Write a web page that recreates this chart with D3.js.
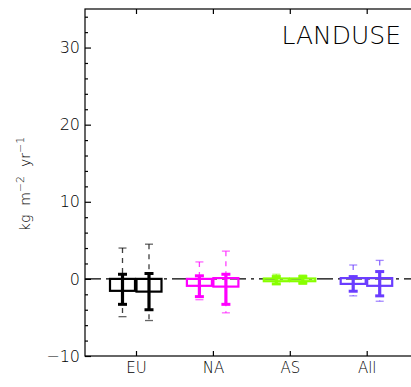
<!DOCTYPE html>
<html>
<head>
<meta charset="utf-8">
<script src="https://cdn.jsdelivr.net/npm/d3@7"></script>
<style>
  html, body { margin: 0; padding: 0; background: #fff; }
  svg { display: block; }
  text { font-family: "DejaVu Sans", sans-serif; font-weight: 200; fill: #000; }
</style>
</head>
<body>
<div id="chart"></div>
<script>
// Regions and their colours
const categories = ["EU", "NA", "AS", "All"];
const colors = ["#000000", "#ff00ff", "#88ff00", "#6a3cff"];

// Left box of each pair (kg m-2 yr-1)
const minA = [-4.9, -2.7, -0.7, -2.2];
const lowA = [-3.3, -2.3, -0.65, -1.6];
const q1A  = [-1.55, -0.9, -0.3, -0.65];
const q3A  = [0.0, 0.0, 0.05, 0.1];
const highA = [0.6, 0.4, 0.3, 0.3];
const maxA = [4.0, 2.2, 0.6, 1.8];

// Right box of each pair
const minB = [-5.4, -4.4, -0.7, -2.9];
const lowB = [-4.0, -3.3, -0.55, -2.2];
const q1B  = [-1.65, -1.0, -0.3, -0.9];
const q3B  = [0.0, 0.1, 0.05, 0.1];
const highB = [0.7, 0.6, 0.3, 0.95];
const maxB = [4.5, 3.6, 0.5, 2.4];

// Axis ticks
const yMajor = [-10, 0, 10, 20, 30];
const yMinor = d3.range(-10, 35.01, 2).filter(v => !yMajor.includes(v));
const title = "LANDUSE";

const W = 411, H = 387;
const plotL = 85, plotT = 9, plotB = 356, plotR = 416;

const svg = d3.select("#chart").append("svg")
  .attr("width", W).attr("height", H);

const x = d3.scalePoint().domain(categories).range([136, 366.7]);
const y = d3.scaleLinear().domain([-10, 35]).range([plotB, plotT]);

// Frame
svg.append("rect")
  .attr("x", plotL).attr("y", plotT)
  .attr("width", plotR - plotL).attr("height", plotB - plotT)
  .attr("fill", "none").attr("stroke", "#000").attr("stroke-width", 1.2);

// Left axis: major and minor inward ticks
const gMajor = svg.append("g").attr("transform", `translate(${plotL},0)`)
  .call(d3.axisLeft(y).tickValues(yMajor).tickSize(-6).tickSizeOuter(0).tickPadding(5)
    .tickFormat(d => d < 0 ? "\u2212" + Math.abs(d) : d));
gMajor.select(".domain").remove();
gMajor.selectAll("line").attr("stroke-width", 1.2);
gMajor.selectAll("text").attr("font-size", 16).attr("font-family", null);

const gMinor = svg.append("g").attr("transform", `translate(${plotL},0)`)
  .call(d3.axisLeft(y).tickValues(yMinor).tickSize(-3).tickSizeOuter(0).tickFormat(""));
gMinor.select(".domain").remove();
gMinor.selectAll("line").attr("stroke-width", 1.2);

// Bottom and top axes
const gBottom = svg.append("g").attr("transform", `translate(0,${plotB})`)
  .call(d3.axisBottom(x).tickSize(-5).tickSizeOuter(0).tickPadding(6));
gBottom.select(".domain").remove();
gBottom.selectAll("line").attr("stroke-width", 1.2);
gBottom.selectAll("text").attr("font-size", 15).attr("font-family", null);

const gTop = svg.append("g").attr("transform", `translate(0,${plotT})`)
  .call(d3.axisTop(x).tickSize(-5).tickSizeOuter(0).tickFormat(""));
gTop.select(".domain").remove();
gTop.selectAll("line").attr("stroke-width", 1.2);

// Zero reference line
svg.append("line")
  .attr("x1", plotL).attr("x2", plotR)
  .attr("y1", y(0)).attr("y2", y(0))
  .attr("stroke", "#000").attr("stroke-width", 1.3)
  .attr("stroke-dasharray", "16,5,3,5");

// Box-and-whisker pairs
const boxes = [];
categories.forEach((c, i) => {
  boxes.push({cat: c, color: colors[i], dx: -13.5, min: minA[i], low: lowA[i], q1: q1A[i], q3: q3A[i], high: highA[i], max: maxA[i]});
  boxes.push({cat: c, color: colors[i], dx: 13, min: minB[i], low: lowB[i], q1: q1B[i], q3: q3B[i], high: highB[i], max: maxB[i]});
});

const boxW = 25, capW = 9, dashCapW = 8;

const g = svg.selectAll("g.box").data(boxes).join("g")
  .attr("class", "box")
  .attr("transform", d => `translate(${x(d.cat) + d.dx},0)`);

// Outer range: thin dashed line with light caps
g.append("line")
  .attr("x1", 0).attr("x2", 0)
  .attr("y1", d => y(d.max)).attr("y2", d => y(d.min))
  .attr("stroke", d => d.color).attr("stroke-width", 1.3)
  .attr("stroke-dasharray", "5,5").attr("opacity", 0.75);
g.append("line")
  .attr("x1", -dashCapW / 2).attr("x2", dashCapW / 2)
  .attr("y1", d => y(d.max)).attr("y2", d => y(d.max))
  .attr("stroke", d => d.color).attr("stroke-width", 1.3).attr("opacity", 0.6);
g.append("line")
  .attr("x1", -dashCapW / 2).attr("x2", dashCapW / 2)
  .attr("y1", d => y(d.min)).attr("y2", d => y(d.min))
  .attr("stroke", d => d.color).attr("stroke-width", 1.3).attr("opacity", 0.6);

// Inner range: thick solid whisker with caps
g.append("line")
  .attr("x1", 0).attr("x2", 0)
  .attr("y1", d => y(d.high)).attr("y2", d => y(d.low))
  .attr("stroke", d => d.color).attr("stroke-width", 3.2);
g.append("line")
  .attr("x1", -capW / 2).attr("x2", capW / 2)
  .attr("y1", d => y(d.high)).attr("y2", d => y(d.high))
  .attr("stroke", d => d.color).attr("stroke-width", 3);
g.append("line")
  .attr("x1", -capW / 2).attr("x2", capW / 2)
  .attr("y1", d => y(d.low)).attr("y2", d => y(d.low))
  .attr("stroke", d => d.color).attr("stroke-width", 3);

// Box between quartiles
g.append("rect")
  .attr("x", -boxW / 2).attr("width", boxW)
  .attr("y", d => y(d.q3)).attr("height", d => y(d.q1) - y(d.q3))
  .attr("fill", "none").attr("stroke", d => d.color).attr("stroke-width", 2.2);

// Title
svg.append("text")
  .attr("x", 401).attr("y", 44)
  .attr("text-anchor", "end")
  .attr("font-size", 25)
  .text(title);

// Y axis unit label
const yl = svg.append("text")
  .attr("transform", "translate(30,184) rotate(-90)")
  .attr("text-anchor", "middle")
  .attr("font-size", 14);
yl.append("tspan").text("kg\u00a0\u00a0m");
yl.append("tspan").attr("dy", -6).attr("font-size", 11).text("\u22122");
yl.append("tspan").attr("dy", 6).text("\u00a0\u00a0yr");
yl.append("tspan").attr("dy", -6).attr("font-size", 11).text("\u22121");
</script>
</body>
</html>
